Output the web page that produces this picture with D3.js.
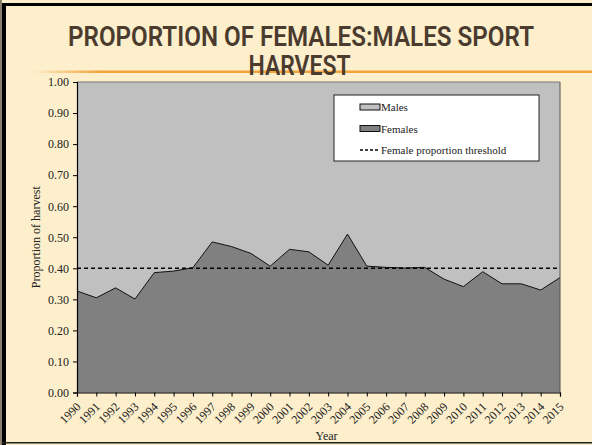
<!DOCTYPE html>
<html>
<head>
<meta charset="utf-8">
<script src="https://cdn.jsdelivr.net/npm/d3@7"></script>
<style>
  body { margin: 0; padding: 0; background: #fdefcc; }
  svg { display: block; }
</style>
</head>
<body>
<div id="chart"></div>
<script>
// years along the x axis
var years = [1990, 1991, 1992, 1993, 1994, 1995, 1996, 1997, 1998, 1999, 2000, 2001, 2002,
             2003, 2004, 2005, 2006, 2007, 2008, 2009, 2010, 2011, 2012, 2013, 2014, 2015];
// female share of the sport harvest (males fill the rest up to 1.00)
var females = [0.327, 0.305, 0.337, 0.301, 0.386, 0.391, 0.402, 0.485, 0.470, 0.448, 0.407, 0.461, 0.453,
               0.410, 0.510, 0.407, 0.403, 0.401, 0.403, 0.365, 0.341, 0.389, 0.350, 0.350, 0.330, 0.370];
var threshold = 0.40;
var yTicks = [0, 0.1, 0.2, 0.3, 0.4, 0.5, 0.6, 0.7, 0.8, 0.9, 1.0];
var legendLabels = ["Males", "Females", "Female proportion threshold"];

var W = 592, H = 445;
var svg = d3.select("#chart").append("svg").attr("width", W).attr("height", H);

// slide background and frame
svg.append("rect").attr("width", W).attr("height", H).attr("fill", "#fdefcc");
svg.append("rect").attr("x", 0).attr("y", 0).attr("width", 2).attr("height", H).attr("fill", "#8a7f6a");
svg.append("rect").attr("x", 2).attr("y", 3).attr("width", 4).attr("height", H - 3).attr("fill", "#000");
svg.append("rect").attr("x", 2).attr("y", 3).attr("width", W - 2).attr("height", 3).attr("fill", "#000");
svg.append("rect").attr("x", 2).attr("y", 442).attr("width", W - 2).attr("height", 1.5).attr("fill", "#222");

// orange rule under the title
var defs = svg.append("defs");
var grad = defs.append("linearGradient").attr("id", "rule");
grad.append("stop").attr("offset", "0%").attr("stop-color", "#f2a43a").attr("stop-opacity", 0);
grad.append("stop").attr("offset", "12%").attr("stop-color", "#f2a43a").attr("stop-opacity", 1);
grad.append("stop").attr("offset", "100%").attr("stop-color", "#f2a43a").attr("stop-opacity", 1);
svg.append("rect").attr("x", 32).attr("y", 70.5).attr("width", W - 32).attr("height", 2.5).attr("fill", "url(#rule)");

// title
var titleFont = "'Liberation Sans Narrow', 'Roboto', sans-serif";
var titleLines = [
  { t: "PROPORTION OF FEMALES:MALES SPORT", x: 301, y: 46, len: 466 },
  { t: "HARVEST", x: 299.5, y: 75, len: 102 }
];
titleLines.forEach(function(d) {
  svg.append("text")
    .attr("x", d.x).attr("y", d.y)
    .attr("textLength", d.len).attr("lengthAdjust", "spacingAndGlyphs")
    .style("text-anchor", "middle").style("font-family", titleFont)
    .style("font-weight", "600").style("font-size", "27px")
    .style("fill", "#4b3b2f")
    .text(d.t);
});

var margin = { left: 77, top: 82, right: 560, bottom: 392.5 };
var x = d3.scaleLinear().domain([years[0], years[years.length - 1]]).range([margin.left, margin.right]);
var y = d3.scaleLinear().domain([0, 1]).range([margin.bottom, margin.top]);

// males area = whole plot
svg.append("rect")
  .attr("x", x(years[0])).attr("y", y(1))
  .attr("width", x(years[years.length - 1]) - x(years[0]))
  .attr("height", y(0) - y(1))
  .attr("fill", "#c0c0c0");

var pts = years.map(function(d, i) { return { year: d, v: females[i] }; });
var area = d3.area().x(function(d) { return x(d.year); }).y0(y(0)).y1(function(d) { return y(d.v); });
var line = d3.line().x(function(d) { return x(d.year); }).y(function(d) { return y(d.v); });

svg.append("path").datum(pts).attr("d", area).attr("fill", "#808080");
svg.append("path").datum(pts).attr("d", line).attr("fill", "none").attr("stroke", "#111").attr("stroke-width", 1);

// right and top edges of plot
svg.append("line").attr("x1", margin.right).attr("x2", margin.right)
  .attr("y1", y(1)).attr("y2", y(0)).attr("stroke", "#555").attr("stroke-width", 1);
svg.append("line").attr("x1", margin.left).attr("x2", margin.right)
  .attr("y1", y(1)).attr("y2", y(1)).attr("stroke", "#777").attr("stroke-width", 1);

// threshold
svg.append("line")
  .attr("x1", x(years[0])).attr("x2", x(years[years.length - 1]))
  .attr("y1", y(threshold)).attr("y2", y(threshold))
  .attr("stroke", "#000").attr("stroke-width", 1.5).attr("stroke-dasharray", "4,3");

// axes
var serif = "'Liberation Serif', 'Times New Roman', serif";
var yAxis = svg.append("g").attr("transform", "translate(" + margin.left + ",0)")
  .call(d3.axisLeft(y).tickValues(yTicks).tickFormat(d3.format(".2f")).tickSize(4));
var xAxis = svg.append("g").attr("transform", "translate(0," + margin.bottom + ")")
  .call(d3.axisBottom(x).tickValues(years).tickFormat(d3.format("d")).tickSize(4));

[yAxis, xAxis].forEach(function(a) {
  a.select(".domain").attr("stroke", "#000").attr("stroke-width", 1.2);
  a.selectAll(".tick line").attr("stroke", "#000");
  a.selectAll("text").style("font-family", serif).style("font-size", "12px").attr("fill", "#222");
});
yAxis.selectAll("text").attr("x", -8);
xAxis.selectAll("text")
  .attr("y", 0).attr("x", 0).attr("dy", 0)
  .style("text-anchor", "end")
  .attr("transform", "translate(4,15) rotate(-45)");

svg.append("text")
  .attr("transform", "translate(40," + ((margin.top + margin.bottom) / 2) + ") rotate(-90)")
  .style("text-anchor", "middle").style("font-family", serif).style("font-size", "12px")
  .attr("fill", "#222").text("Proportion of harvest");
svg.append("text")
  .attr("x", (margin.left + margin.right) / 2 + 8).attr("y", 440)
  .style("text-anchor", "middle").style("font-family", serif).style("font-size", "12px")
  .attr("fill", "#222").text("Year");

// legend
var lg = svg.append("g").attr("transform", "translate(334,95)");
lg.append("rect").attr("width", 205).attr("height", 66).attr("fill", "#fff").attr("stroke", "#222").attr("stroke-width", 1);
legendLabels.forEach(function(t, i) {
  var cy = 12 + i * 21.5;
  if (i < 2) {
    lg.append("rect").attr("x", 26).attr("y", cy - 3).attr("width", 20).attr("height", 6)
      .attr("fill", i == 0 ? "#c0c0c0" : "#808080").attr("stroke", "#111").attr("stroke-width", 1);
  } else {
    lg.append("line").attr("x1", 26).attr("x2", 46).attr("y1", cy).attr("y2", cy)
      .attr("stroke", "#000").attr("stroke-width", 1.5).attr("stroke-dasharray", "3,2");
  }
  lg.append("text").attr("x", 47).attr("y", cy + 4)
    .style("font-family", serif).style("font-size", "11px").attr("fill", "#222").text(t);
});
</script>
</body>
</html>
